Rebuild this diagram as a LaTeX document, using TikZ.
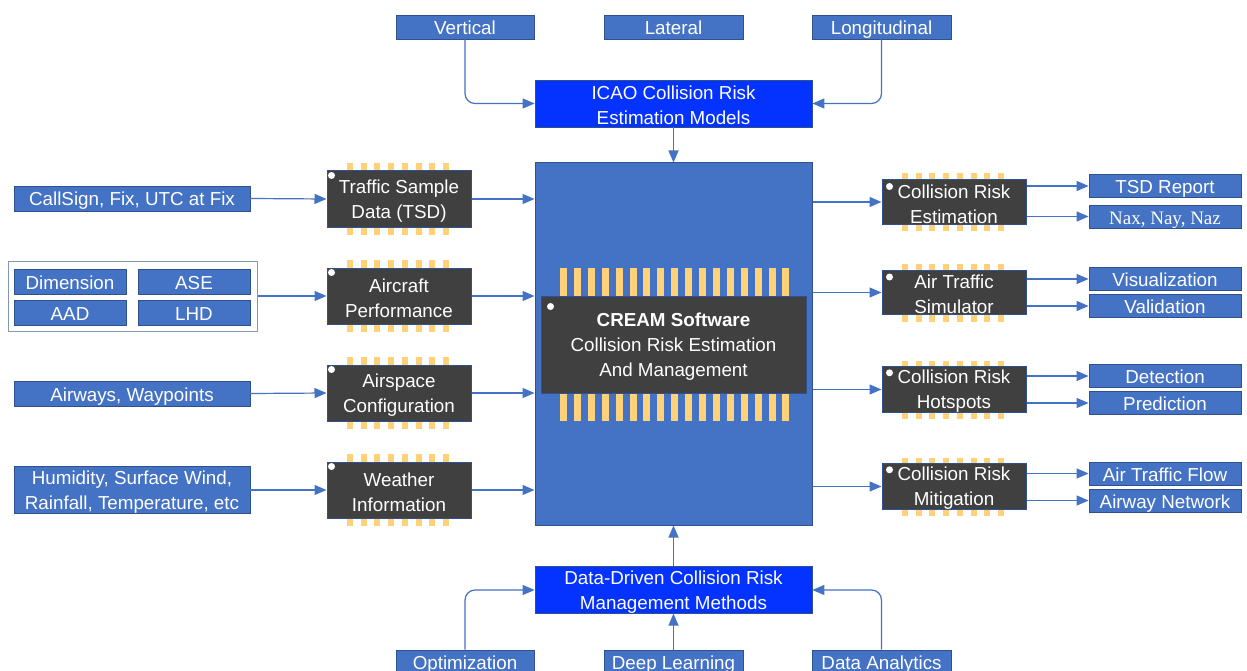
\documentclass[tikz,border=0pt]{standalone}
\usepackage{fontspec}
\setmainfont{Liberation Sans}
\newfontfamily\seriffont{Liberation Serif}
\usetikzlibrary{arrows.meta}
\definecolor{sblue}{HTML}{4472C4}
\definecolor{sborder}{HTML}{2F528F}
\definecolor{bright}{HTML}{0433FF}
\definecolor{chipfill}{HTML}{404040}
\definecolor{pinc}{HTML}{FFD27A}
\definecolor{grpborder}{HTML}{8497B0}
\newcommand{\pinrow}[6]{\foreach \i in {0,...,#4} {\fill[pinc] ({#1+\i*#5},#2) rectangle ({#1+\i*#5+#6},#3);}}
\newcommand{\fs}{\rule{0pt}{17.5pt}}
\begin{document}
\begin{tikzpicture}[x=1pt,y=-1pt,
  every node/.style={font=\fontsize{18.8}{25}\selectfont, text=white, inner sep=0pt, align=center},
  sbox/.style={draw=sborder, fill=sblue, line width=0.8pt, minimum height=24pt},
  one/.style={text height=15pt, text depth=0pt},
  bbox/.style={draw=sborder, fill=bright, line width=0.8pt, minimum width=277pt},
  chip/.style={draw=sborder, fill=chipfill, line width=1pt, minimum width=144pt},
  conn/.style={draw=sblue, line width=1.2pt, rounded corners=10pt, -{Triangle[length=12pt,width=10pt]}},
  dot/.style={fill=white}
]
\useasboundingbox (0,0) rectangle (1247,671);
\fill[white] (0,0) rectangle (1247,671);

% top
\node[sbox, one, minimum width=138pt] (vert) at (465,27) {Vertical};
\node[sbox, one, minimum width=139pt] (lat) at (673.5,27) {Lateral};
\node[sbox, one, minimum width=139pt] (long) at (881.5,27) {Longitudinal};
\node[bbox, minimum height=47pt] (icao) at (673.5,103.5) {\fs ICAO Collision Risk\\Estimation Models};

% big box
\node[draw=sborder, fill=sblue, line width=1pt, minimum width=277pt, minimum height=362pt] (big) at (673.5,344) {};
\pinrow{560}{268}{421}{16}{13.9}{7}
\node[chip, minimum width=265pt, minimum height=97pt] (cream) at (673.5,344.5) {\fs\textbf{CREAM Software}\\Collision Risk Estimation\\And Management};
\fill[dot] ([shift={(10,11)}]cream.north west) circle (3.5);

% bottom
\node[bbox, minimum height=46pt] (dd) at (673.5,590) {\fs Data-Driven Collision Risk\\Management Methods};
\node[sbox, one, minimum width=138pt] (opt) at (465,662) {Optimization};
\node[sbox, one, minimum width=139pt] (dl) at (673.5,662) {Deep Learning};
\node[sbox, one, minimum width=139pt] (da) at (881.5,662) {Data Analytics};

% left chips
\pinrow{347}{163}{235}{7}{13.7}{6}
\node[chip, minimum height=56pt] (tsd) at (399,199) {\fs Traffic Sample\\Data (TSD)};
\pinrow{347}{260}{332}{7}{13.7}{6}
\node[chip, minimum height=56pt] (ap) at (399,296) {\fs Aircraft\\Performance};
\pinrow{347}{357}{429}{7}{13.7}{6}
\node[chip, minimum height=56pt] (asc) at (399,393) {\fs Airspace\\Configuration};
\pinrow{347}{454}{526}{7}{13.7}{6}
\node[chip, minimum height=56pt] (wi) at (399,490) {\fs Weather\\Information};
\foreach \n in {tsd,ap,asc,wi} {\fill[dot] ([shift={(5,5)}]\n.north west) circle (3.5);}

% left inputs
\node[sbox, one, minimum width=236pt, minimum height=25pt] (cs) at (132,198.5) {CallSign, Fix, UTC at Fix};
\node[draw=grpborder, fill=white, line width=1pt, minimum width=249pt, minimum height=70pt] (grp) at (132.5,296) {};
\node[sbox, one, minimum width=112pt, minimum height=25pt] (dim) at (70,281.5) {Dimension};
\node[sbox, one, minimum width=112pt, minimum height=25pt] (ase) at (194,281.5) {ASE};
\node[sbox, one, minimum width=112pt, minimum height=25pt] (aad) at (70,313) {AAD};
\node[sbox, one, minimum width=112pt, minimum height=25pt] (lhd) at (194,313) {LHD};
\node[sbox, one, minimum width=236pt, minimum height=25pt] (aw) at (132,393.5) {Airways, Waypoints};
\node[sbox, minimum width=236pt, minimum height=44pt] (hum) at (132,490) {\fs Humidity, Surface Wind,\\Rainfall, Temperature, etc};

% right chips
\pinrow{902}{173}{231}{7}{13.7}{6}
\node[chip, minimum height=44pt] (cre) at (954,202) {\fs Collision Risk\\Estimation};
\pinrow{902}{263.5}{321.5}{7}{13.7}{6}
\node[chip, minimum height=44pt] (ats) at (954,292.5) {\fs Air Traffic\\Simulator};
\pinrow{902}{360.5}{418.5}{7}{13.7}{6}
\node[chip, minimum height=44pt] (crh) at (954,389.5) {\fs Collision Risk\\Hotspots};
\pinrow{902}{457.5}{515.5}{7}{13.7}{6}
\node[chip, minimum height=44pt] (crm) at (954,486.5) {\fs Collision Risk\\Mitigation};
\foreach \n in {cre,ats,crh,crm} {\fill[dot] ([shift={(8,7)}]\n.north west) circle (3.5);}

% right outputs
\tikzset{obox/.style={sbox, one, minimum width=152pt, minimum height=23pt}}
\node[obox] (tsdr) at (1165,186) {TSD Report};
\node[obox, font=\seriffont\fontsize{19}{24}\selectfont] (nax) at (1165,216.5) {Nax, Nay, Naz};
\node[obox] (vis) at (1165,279) {Visualization};
\node[obox] (val) at (1165,306) {Validation};
\node[obox] (det) at (1165,376) {Detection};
\node[obox] (pred) at (1165,403) {Prediction};
\node[obox] (atf) at (1165,473.5) {Air Traffic Flow};
\node[obox] (awn) at (1165,500.5) {Airway Network};

% connectors top/bottom
\draw[conn] (vert.south) |- (icao.west);
\draw[conn] (long.south) |- (icao.east);
\draw[conn] (icao.south) -- (big.north);
\draw[conn] (dd.north) -- (big.south);
\draw[conn] (opt.north) |- (dd.west);
\draw[conn] (dl.north) -- (dd.south);
\draw[conn] (da.north) |- (dd.east);

% left connectors
\draw[conn] (cs.east) -- (tsd.west);
\draw[conn] (grp.east) -- (ap.west);
\draw[conn] (aw.east) -- (asc.west);
\draw[conn] (hum.east) -- (wi.west);
\foreach \n in {tsd,ap,asc,wi} {\draw[conn] (\n.east) -- (\n.east -| big.west);}

% right connectors
\foreach \n in {cre,ats,crh,crm} {\draw[conn] (\n.west -| big.east) -- (\n.west);}
\foreach \c/\o in {cre/tsdr,cre/nax,ats/vis,ats/val,crh/det,crh/pred,crm/atf,crm/awn} {\draw[conn] (\c.east |- \o.west) -- (\o.west);}
\end{tikzpicture}
\end{document}
